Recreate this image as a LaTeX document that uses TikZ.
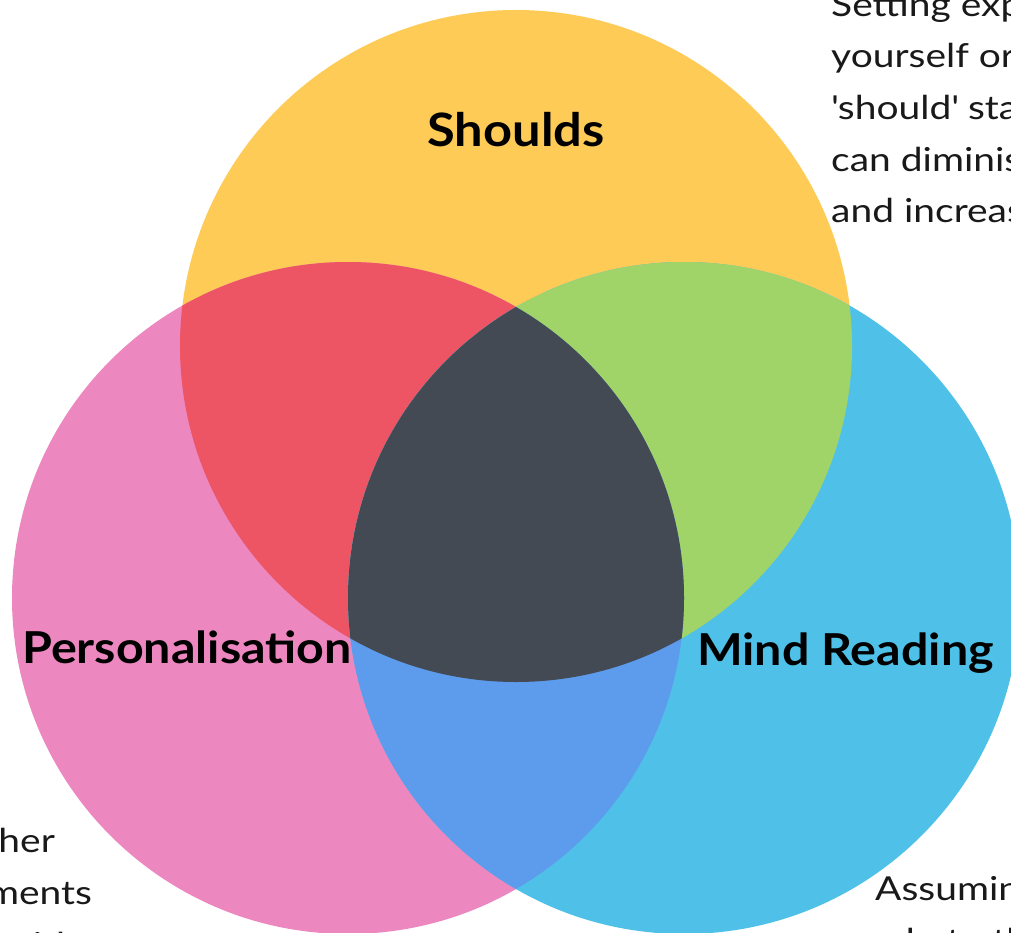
\documentclass[tikz,border=0pt]{standalone}
\usepackage{fontspec}
\setmainfont{Lato}
\newfontfamily\headfont[FakeStretch=1.1]{Lato}
\newfontfamily\bodyfont[FakeStretch=1.18]{Lato}
\definecolor{sunflower}{HTML}{FECB57}
\definecolor{pinkrose}{HTML}{EC87C0}
\definecolor{aqua}{HTML}{4FC1E8}
\definecolor{grapefruit}{HTML}{ED5565}
\definecolor{grass}{HTML}{A0D468}
\definecolor{bluejeans}{HTML}{5D9CEC}
\definecolor{darkgray}{HTML}{434A54}
\begin{document}
\begin{tikzpicture}[x=1pt,y=-1pt,
  heading/.style={inner sep=0pt,font=\headfont\fontsize{44}{52}\selectfont\bfseries,text=black},
  body/.style={inner sep=0pt,font=\bodyfont\fontsize{33}{52}\selectfont,text=black!90}]
\useasboundingbox (0,0) rectangle (1011,933);
\clip (0,0) rectangle (1011,933);
% circle centres and radius
\coordinate (ct) at (516,346);
\coordinate (cl) at (348,598);
\coordinate (cr) at (684,598);
\def\R{336pt}
% single circles
\fill[sunflower] (ct) circle[radius=\R];
\fill[pinkrose] (cl) circle[radius=\R];
\fill[aqua] (cr) circle[radius=\R];
% pairwise overlaps
\begin{scope}
  \clip (ct) circle[radius=\R];
  \fill[grapefruit] (cl) circle[radius=\R];
\end{scope}
\begin{scope}
  \clip (ct) circle[radius=\R];
  \fill[grass] (cr) circle[radius=\R];
\end{scope}
\begin{scope}
  \clip (cl) circle[radius=\R];
  \fill[bluejeans] (cr) circle[radius=\R];
\end{scope}
% common centre
\begin{scope}
  \clip (ct) circle[radius=\R];
  \clip (cl) circle[radius=\R];
  \fill[darkgray] (cr) circle[radius=\R];
\end{scope}
% headings
\node[heading,anchor=base] (shoulds) at (516,147) {\fontsize{46}{52}\selectfont Shoulds};
\node[heading,anchor=base west] (pers) at (22,663) {Personalisation};
\node[heading,anchor=base west] (mind) at (697,665) {Mind Reading};
% descriptions
\node[body,anchor=base west] (s1) at (831,17) {Setting expectations};
\node[body,anchor=base west] (s2) at (831,68) {yourself or others with};
\node[body,anchor=base west] (s3) at (831,120) {\textquotesingle should\textquotesingle{} statements};
\node[body,anchor=base west] (s4) at (831,172) {can diminish motivation};
\node[body,anchor=base west] (s5) at (831,223) {and increase guilt.};
\node[body,anchor=base east] (p1) at (55,852) {Blaming yourself for other};
\node[body,anchor=base east] (p2) at (92,904) {people's comments};
\node[body,anchor=base east] (p3) at (78,956) {or events to do with};
\node[body,anchor=base west] (m1) at (875,900) {Assuming you know};
\node[body,anchor=base west] (m2) at (875,952) {what others think};
\end{tikzpicture}
\end{document}
